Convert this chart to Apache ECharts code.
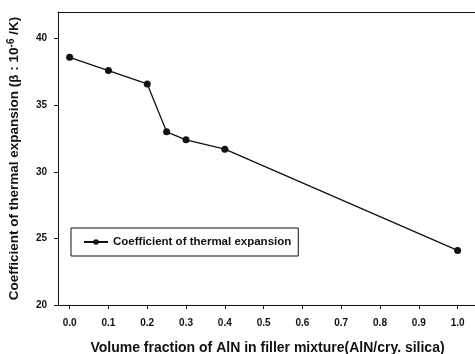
<!DOCTYPE html>
<html>
<head>
<meta charset="utf-8">
<script src="https://cdn.jsdelivr.net/npm/echarts@6/dist/echarts.min.js"></script>
<style>
  html, body { margin: 0; padding: 0; background: #fff; }
  #chart { width: 475px; height: 354px; }
</style>
</head>
<body>
<div id="chart"></div>
<script>
// data
const fraction = [0.0, 0.1, 0.2, 0.25, 0.3, 0.4, 1.0];
const cte = [38.6, 37.6, 36.6, 33.0, 32.4, 31.7, 24.1];
const xTicks = [0.0, 0.1, 0.2, 0.3, 0.4, 0.5, 0.6, 0.7, 0.8, 0.9, 1.0];
const yTicks = [20, 25, 30, 35, 40];

const font = 'Liberation Sans, Arial, sans-serif';
const ink = '#111';

const chart = echarts.init(document.getElementById('chart'));

const option = {
  backgroundColor: '#fff',
  animation: false,
  grid: {
    left: 58, top: 12, right: -2, bottom: 49,
    outerBoundsMode: 'none'
  },
  legend: {
    left: 71, top: 228,
    padding: [8, 7, 8, 12],
    itemWidth: 24, itemHeight: 7,
    borderColor: ink, borderWidth: 1,
    textStyle: { fontFamily: font, fontWeight: 'bold', fontSize: 11.5, color: ink },
    data: ['Coefficient of thermal expansion']
  },
  xAxis: [{
    type: 'value',
    min: -0.03, max: 1.05,
    splitLine: { show: false },
    axisLine: { onZero: false, lineStyle: { color: ink } },
    axisTick: { length: 4, customValues: xTicks, lineStyle: { color: ink } },
    axisLabel: {
      customValues: xTicks,
      margin: 13,
      fontFamily: font, fontWeight: 'bold', fontSize: 10, color: ink,
      formatter: v => v.toFixed(1)
    },
    name: 'Volume fraction of AlN in filler mixture(AlN/cry. silica)',
    nameLocation: 'middle',
    nameGap: 36,
    nameTextStyle: { fontFamily: font, fontWeight: 'bold', fontSize: 14, color: ink }
  }, {
    // plain frame line along the top
    type: 'value',
    position: 'top',
    min: -0.03, max: 1.05,
    splitLine: { show: false },
    axisLine: { onZero: false, lineStyle: { color: ink } },
    axisTick: { show: false },
    axisLabel: { show: false }
  }],
  yAxis: {
    type: 'value',
    min: 20, max: 42,
    splitLine: { show: false },
    axisLine: { show: true, onZero: false, lineStyle: { color: ink } },
    axisTick: { show: true, length: 4, customValues: yTicks, lineStyle: { color: ink } },
    axisLabel: {
      customValues: yTicks,
      margin: 11,
      fontFamily: font, fontWeight: 'bold', fontSize: 10, color: ink
    },
    name: 'Coefficient of thermal expansion (β : 10{sup|-6} /K)',
    nameLocation: 'middle',
    nameGap: 35,
    nameTextStyle: {
      fontFamily: font, fontWeight: 'bold', fontSize: 13.5, color: ink,
      rich: {
        sup: { fontFamily: font, fontWeight: 'bold', fontSize: 10, color: ink, verticalAlign: 'top', padding: [0, 0, 7, 0] }
      }
    }
  },
  series: [{
    name: 'Coefficient of thermal expansion',
    type: 'line',
    data: fraction.map((x, i) => [x, cte[i]]),
    symbol: 'circle',
    symbolSize: 7,
    lineStyle: { color: ink, width: 1.3 },
    itemStyle: { color: ink }
  }]
};

chart.setOption(option);
</script>
</body>
</html>
